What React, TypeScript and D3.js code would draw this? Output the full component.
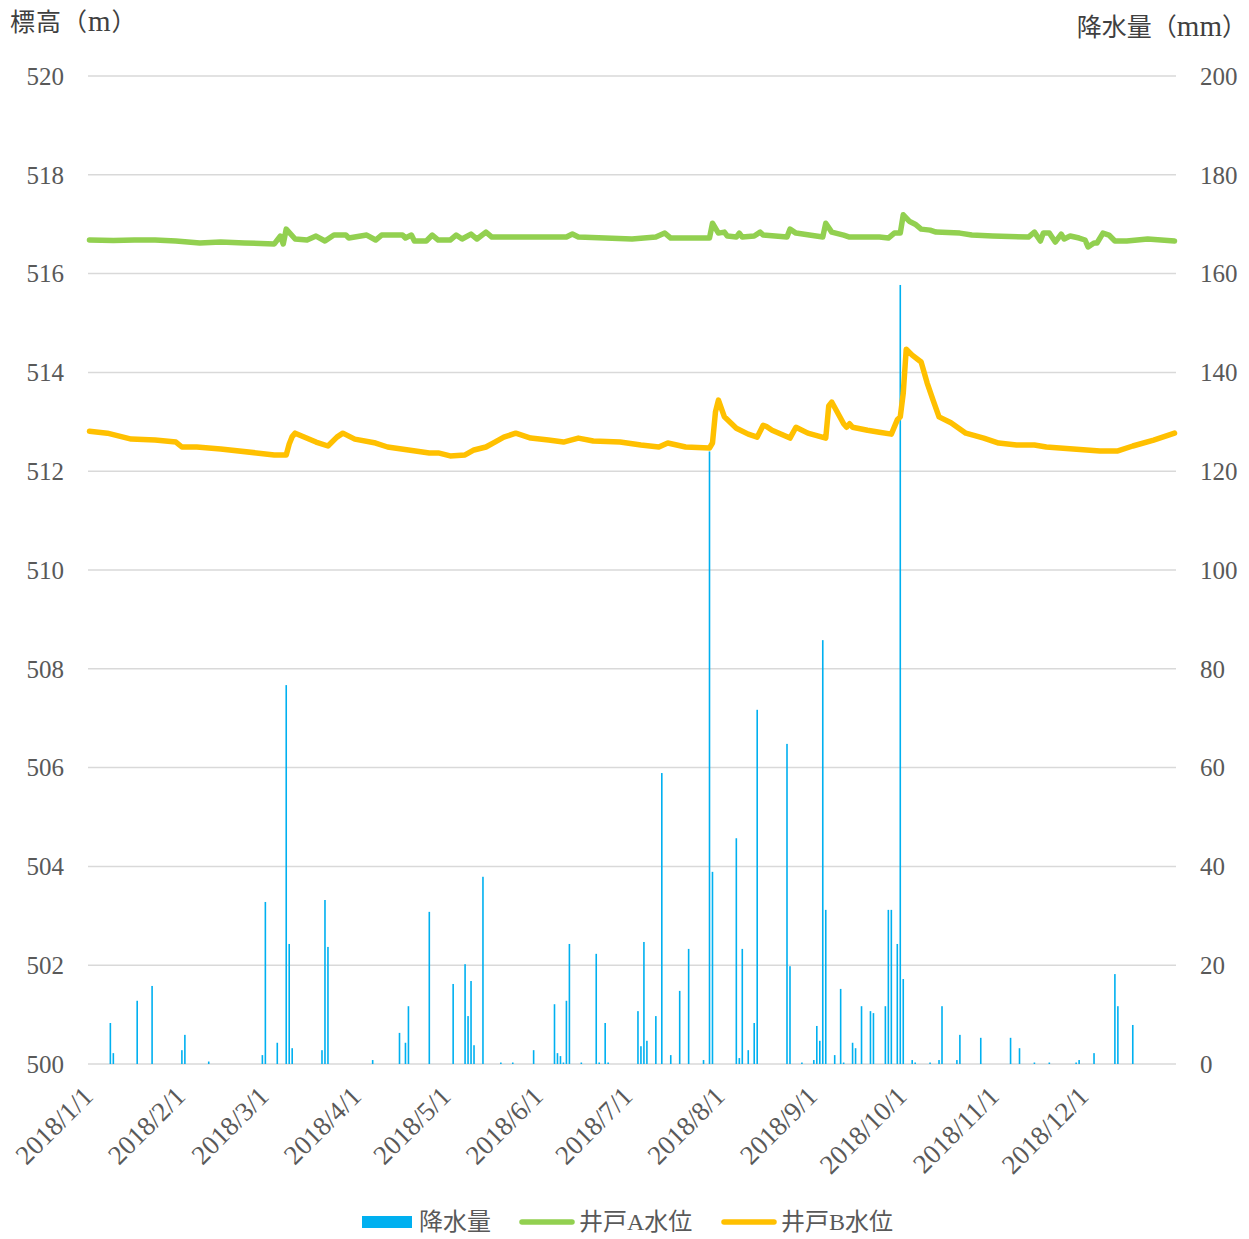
import React, { useEffect, useRef } from "react";
import * as d3 from "d3";

// days are counted from 2018/1/1 (0 = 1/1)
const monthLabels = [
  "2018/1/1", "2018/2/1", "2018/3/1", "2018/4/1", "2018/5/1", "2018/6/1",
  "2018/7/1", "2018/8/1", "2018/9/1", "2018/10/1", "2018/11/1", "2018/12/1",
];
const leftTicks = [500, 502, 504, 506, 508, 510, 512, 514, 516, 518, 520];
const rightTicks = [0, 20, 40, 60, 80, 100, 120, 140, 160, 180, 200];

// 降水量 (mm), only rainy days: [day, mm]
const rainfall: [number, number][] = [
  [7, 8.3], [8, 2.2], [16, 12.8], [21, 15.8], [31, 2.8], [32, 5.9], [40, 0.5],
  [58, 1.8], [59, 32.8], [63, 4.3], [66, 76.7], [67, 24.3], [68, 3.2],
  [78, 2.8], [79, 33.2], [80, 23.7], [95, 0.8], [104, 6.3], [106, 4.3], [107, 11.7],
  [114, 30.8], [122, 16.2], [126, 20.2], [127, 9.7], [128, 16.8], [129, 3.8],
  [132, 37.9], [138, 0.3], [142, 0.3], [149, 2.8], [156, 12.1], [157, 2.2],
  [158, 1.6], [159, 0.3], [160, 12.8], [161, 24.3], [165, 0.3], [170, 22.3],
  [171, 0.3], [173, 8.3], [174, 0.3], [184, 10.7], [185, 3.6], [186, 24.7],
  [187, 4.7], [190, 9.7], [192, 58.9], [195, 1.8], [198, 14.8], [201, 23.3],
  [206, 0.8], [208, 124], [209, 38.9], [217, 45.7], [218, 1.2], [219, 23.3],
  [221, 2.8], [223, 8.3], [224, 71.7], [234, 64.8], [235, 19.8], [239, 0.3],
  [243, 0.8], [244, 7.7], [245, 4.7], [246, 85.8], [247, 31.2], [250, 1.8],
  [252, 15.2], [253, 0.3], [256, 4.3], [257, 3.2], [259, 11.7], [262, 10.7],
  [263, 10.3], [267, 11.7], [268, 31.2], [269, 31.2], [271, 24.3], [272, 157.7],
  [273, 17.2], [276, 0.8], [277, 0.3], [282, 0.3], [285, 0.8], [286, 11.7],
  [291, 0.8], [292, 5.9], [299, 5.3], [309, 5.3], [312, 3.2], [317, 0.3],
  [322, 0.3], [331, 0.3], [332, 0.8], [337, 2.2], [344, 18.2], [345, 11.7],
  [350, 7.9],
];

// 井戸A水位 (m): [day, level]
const wellA: [number, number][] = [
  [0, 516.68], [8, 516.67], [15, 516.68], [22, 516.68], [29, 516.66], [37, 516.62], [44, 516.64],
  [52, 516.62], [62, 516.6],
  [64, 516.76], [65, 516.6], [66, 516.9], [69, 516.7], [73, 516.68], [76, 516.76],
  [79, 516.66], [82, 516.78], [86, 516.78], [87, 516.72], [93, 516.78], [96, 516.68],
  [98, 516.78], [105, 516.78], [106, 516.72], [108, 516.78], [109, 516.66],
  [113, 516.66], [115, 516.78], [117, 516.68], [121, 516.68], [123, 516.78],
  [125, 516.7], [128, 516.8], [130, 516.7], [133, 516.84], [135, 516.74],
  [160, 516.74], [162, 516.8], [164, 516.74], [182, 516.7], [190, 516.74],
  [193, 516.82], [195, 516.72], [208, 516.72], [209, 517.02], [211, 516.82],
  [213, 516.84], [214, 516.76], [217, 516.74], [218, 516.82], [219, 516.74],
  [223, 516.76], [225, 516.84], [226, 516.78], [234, 516.74], [235, 516.9],
  [237, 516.82], [246, 516.74], [247, 517.02], [249, 516.84], [253, 516.78],
  [255, 516.74], [265, 516.74], [268, 516.72], [270, 516.82], [272, 516.82],
  [273, 517.19], [275, 517.06], [277, 517.0], [279, 516.9], [282, 516.88],
  [284, 516.84], [292, 516.82], [296, 516.78], [303, 516.76], [315, 516.74],
  [317, 516.84], [319, 516.66], [320, 516.82], [322, 516.82], [324, 516.64],
  [326, 516.8], [327, 516.7], [329, 516.76], [332, 516.72], [334, 516.68],
  [335, 516.54], [337, 516.62], [338, 516.62], [340, 516.82], [342, 516.78],
  [344, 516.66], [348, 516.66], [355, 516.7], [364, 516.66],
];

// 井戸B水位 (m): [day, level]
const wellB: [number, number][] = [
  [0, 512.81], [6, 512.77], [14, 512.65], [22, 512.63], [29, 512.59], [31, 512.49],
  [36, 512.49], [44, 512.45], [56, 512.37], [62, 512.33], [66, 512.33], [67, 512.55],
  [68, 512.7], [69, 512.77], [76, 512.59], [80, 512.51], [83, 512.69], [85, 512.77],
  [89, 512.65], [96, 512.57], [100, 512.49], [107, 512.43], [114, 512.37],
  [117, 512.37], [121, 512.31], [126, 512.33], [129, 512.43], [133, 512.49],
  [136, 512.59], [139, 512.69], [143, 512.77], [148, 512.67], [154, 512.63],
  [159, 512.59], [164, 512.67], [169, 512.61], [178, 512.59], [185, 512.53],
  [191, 512.49], [194, 512.57], [200, 512.49], [208, 512.47], [209, 512.57],
  [210, 513.2], [211, 513.44], [213, 513.1], [217, 512.87], [221, 512.75],
  [224, 512.69], [226, 512.93], [227, 512.91], [229, 512.83], [235, 512.67],
  [237, 512.89], [241, 512.77], [247, 512.67], [248, 513.32], [249, 513.4],
  [253, 512.96], [254, 512.89], [255, 512.96], [256, 512.89], [261, 512.83],
  [265, 512.79], [269, 512.75], [271, 513.04], [272, 513.1], [273, 513.58],
  [274, 514.47], [276, 514.35], [279, 514.21], [281, 513.79], [283, 513.44],
  [285, 513.1], [289, 512.98], [294, 512.77], [300, 512.67], [305, 512.57],
  [311, 512.53], [317, 512.53], [321, 512.49], [330, 512.45], [339, 512.41],
  [345, 512.41], [350, 512.51], [357, 512.63], [362, 512.73], [364, 512.77],
];

const FONT = '"Liberation Serif", "Noto Sans CJK JP", serif';

const App = () => {
  const svgRef = useRef<SVGSVGElement>(null);

  useEffect(() => {
    const svg = d3.select(svgRef.current);
    svg.selectAll("*").remove();

    const width = 1249;
    const height = 1239;
    const margin = { top: 76, right: 73, bottom: 175, left: 88 };
    const plotBottom = height - margin.bottom;

    //scales
    const x = d3.scaleLinear().domain([0, 365]).range([margin.left, width - margin.right]);
    const yL = d3.scaleLinear().domain([500, 520]).range([plotBottom, margin.top]);
    const yR = d3.scaleLinear().domain([0, 200]).range([plotBottom, margin.top]);

    //gridlines
    svg.append("g")
      .selectAll("line")
      .data(leftTicks)
      .enter()
      .append("line")
      .attr("x1", margin.left)
      .attr("x2", width - margin.right)
      .attr("y1", (d) => yL(d))
      .attr("y2", (d) => yL(d))
      .attr("stroke", "#d9d9d9")
      .attr("stroke-width", 1.5);

    //left tick labels
    svg.append("g")
      .selectAll("text")
      .data(leftTicks)
      .enter()
      .append("text")
      .attr("x", 64)
      .attr("y", (d) => yL(d))
      .attr("dy", "0.35em")
      .attr("text-anchor", "end")
      .attr("fill", "#595959")
      .style("font-size", "25px")
      .text((d) => d);

    //right tick labels
    svg.append("g")
      .selectAll("text")
      .data(rightTicks)
      .enter()
      .append("text")
      .attr("x", 1200)
      .attr("y", (d) => yR(d))
      .attr("dy", "0.35em")
      .attr("fill", "#595959")
      .style("font-size", "25px")
      .text((d) => d);

    //month labels
    const start = new Date(2018, 0, 1);
    svg.append("g")
      .selectAll("text")
      .data(monthLabels)
      .enter()
      .append("text")
      .attr("transform", (d, i) => {
        const day = d3.timeDay.count(start, new Date(2018, i, 1));
        return `translate(${x(day + 0.5) + 5}, 1098) rotate(-45)`;
      })
      .attr("text-anchor", "end")
      .attr("fill", "#595959")
      .style("font-size", "27px")
      .text((d) => d);

    //rain bars
    svg.append("g")
      .selectAll("rect")
      .data(rainfall)
      .enter()
      .append("rect")
      .attr("x", (d) => x(d[0] + 0.5) - 0.8)
      .attr("width", 1.6)
      .attr("y", (d) => yR(d[1]))
      .attr("height", (d) => plotBottom - yR(d[1]))
      .attr("fill", "#00b0f0");

    //water level lines
    const line = d3
      .line<[number, number]>()
      .x((d) => x(d[0] + 0.5))
      .y((d) => yL(d[1]));

    [
      { data: wellA, color: "#92d050" },
      { data: wellB, color: "#ffc000" },
    ].forEach((s) => {
      svg.append("path")
        .datum(s.data)
        .attr("fill", "none")
        .attr("stroke", s.color)
        .attr("stroke-width", 5.5)
        .attr("stroke-linejoin", "round")
        .attr("stroke-linecap", "round")
        .attr("d", line);
    });

    //axis titles
    svg.append("text")
      .attr("x", 10)
      .attr("y", 31)
      .attr("fill", "#404040")
      .style("font-size", "25px")
      .style("letter-spacing", "1px")
      .text("標高（")
      .append("tspan")
      .style("font-size", "29px")
      .text("m")
      .append("tspan")
      .style("font-size", "25px")
      .text("）");

    svg.append("text")
      .attr("x", 1247)
      .attr("y", 36)
      .attr("text-anchor", "end")
      .attr("fill", "#404040")
      .style("font-size", "25px")
      .text("降水量（")
      .append("tspan")
      .style("font-size", "29px")
      .text("mm")
      .append("tspan")
      .style("font-size", "25px")
      .text("）");

    //legend
    const ly = 1222;
    const legend = svg.append("g").style("font-size", "24px").attr("fill", "#595959");
    legend.append("rect").attr("x", 362).attr("y", ly - 6).attr("width", 50).attr("height", 12).attr("fill", "#00b0f0");
    legend.append("text").attr("x", 419).attr("y", ly).attr("dy", "0.35em").text("降水量");
    legend.append("line").attr("x1", 522).attr("x2", 572).attr("y1", ly).attr("y2", ly)
      .attr("stroke", "#92d050").attr("stroke-width", 5.5).attr("stroke-linecap", "round");
    legend.append("text").attr("x", 579).attr("y", ly).attr("dy", "0.35em").text("井戸A水位");
    legend.append("line").attr("x1", 724).attr("x2", 774).attr("y1", ly).attr("y2", ly)
      .attr("stroke", "#ffc000").attr("stroke-width", 5.5).attr("stroke-linecap", "round");
    legend.append("text").attr("x", 781).attr("y", ly).attr("dy", "0.35em").text("井戸B水位");
  }, []);

  return (
    <div>
      <style>{`body{margin:0}`}</style>
      <svg ref={svgRef} width={1249} height={1239} style={{ display: "block", fontFamily: FONT, background: "#fff" }} />
    </div>
  );
};

export default App;
